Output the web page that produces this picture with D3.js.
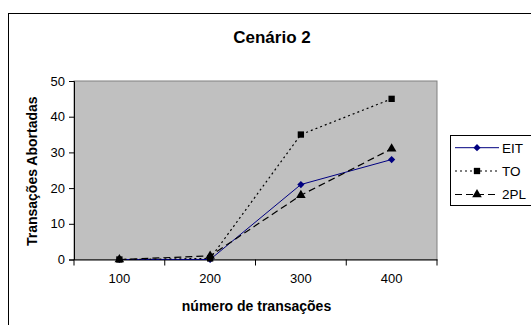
<!DOCTYPE html>
<html><head><meta charset="utf-8">
<script src="https://cdn.jsdelivr.net/npm/d3@7"></script>
<style>html,body{margin:0;padding:0;background:#fff;overflow:hidden}svg{display:block}</style>
</head><body>
<script>
const categories = ["100","200","300","400"];
const seriesNames = ["EIT","TO","2PL"];
const eitValues = [0, 0, 21, 28];
const toValues = [0, 0.3, 35, 45];
const tplValues = [0, 1, 18, 31];
const yTicks = [0,10,20,30,40,50];

(function(){
const W = 531, H = 325;
const svg = d3.select("body").append("svg").attr("width", W).attr("height", H);
const font = "Arial, 'Liberation Sans', sans-serif";

// outer chart border
svg.append("rect").attr("x", 8.5).attr("y", 13.5).attr("width", 600).attr("height", 400)
  .attr("fill", "#fff").attr("stroke", "#000").attr("stroke-width", 1);

const pL = 74, pR = 437, pT = 81, pB = 259.5;
const x = d3.scaleBand().domain(categories).range([pL, pR]).padding(0);
const y = d3.scaleLinear().domain([0, 50]).range([pB, pT]);

// plot area
svg.append("rect").attr("x", pL).attr("y", pT).attr("width", pR-pL).attr("height", pB-pT)
  .attr("fill", "#c0c0c0").attr("stroke", "#808080").attr("stroke-width", 1);

// y axis
const yAxis = svg.append("g").attr("transform", `translate(${pL},0)`)
  .call(d3.axisLeft(y).tickValues(yTicks).tickSize(5).tickPadding(4));
// x axis
const xAxis = svg.append("g").attr("transform", `translate(0,${pB})`)
  .call(d3.axisBottom(x).tickSize(0).tickPadding(14));
[yAxis, xAxis].forEach(g => {
  g.select(".domain").attr("stroke", "#000");
  g.selectAll("text").attr("font-family", font).attr("font-size", "13px").attr("fill", "#000");
  g.selectAll("line").attr("stroke", "#000");
});
// x ticks between categories
const bounds = categories.map(c => x(c)).concat([x(categories[categories.length-1]) + x.bandwidth()]);
svg.append("g").selectAll("line").data(bounds).join("line")
  .attr("x1", d => d).attr("x2", d => d).attr("y1", pB).attr("y2", pB + 6)
  .attr("stroke", "#000");

const cx = c => x(c) + x.bandwidth()/2;
const series = [
  {name: seriesNames[0], values: eitValues, color: "#000080", dash: null, width: 1, marker: d3.symbolSquare, size: 26, rot: 45},
  {name: seriesNames[1], values: toValues, color: "#000", dash: "2,3", width: 1.2, marker: d3.symbolSquare, size: 40, rot: 0},
  {name: seriesNames[2], values: tplValues, color: "#000", dash: "7,4", width: 1.2, marker: d3.symbolTriangle, size: 40, rot: 0},
];
const line = d3.line().x((d,i) => cx(categories[i])).y(d => y(d));
series.forEach(s => {
  svg.append("path").attr("d", line(s.values)).attr("fill", "none")
    .attr("stroke", s.color).attr("stroke-width", s.width).attr("stroke-dasharray", s.dash);
});
series.forEach(s => {
  svg.append("g").selectAll("path").data(s.values).join("path")
    .attr("d", d3.symbol().type(s.marker).size(s.size))
    .attr("transform", (d,i) => `translate(${cx(categories[i])},${y(d)}) rotate(${s.rot})`)
    .attr("fill", s.color);
});

// title
svg.append("text").attr("x", 272).attr("y", 43).attr("text-anchor", "middle")
  .attr("font-family", font).attr("font-weight", "bold").attr("font-size", "17px").text("Cenário 2");
// y title
svg.append("text").attr("transform", `translate(37,${(pT+pB)/2 + 1}) rotate(-90)`).attr("text-anchor", "middle")
  .attr("font-family", font).attr("font-weight", "bold").attr("font-size", "14px").text("Transações Abortadas");
// x title
svg.append("text").attr("x", (pL+pR)/2 + 1).attr("y", 311).attr("text-anchor", "middle")
  .attr("font-family", font).attr("font-weight", "bold").attr("font-size", "14px").text("número de transações");

// legend
const lg = svg.append("g");
lg.append("rect").attr("x", 450.5).attr("y", 135.5).attr("width", 120).attr("height", 70)
  .attr("fill", "#fff").attr("stroke", "#000");
const ly = [147.7, 171, 194.5];
series.forEach((s, i) => {
  lg.append("line").attr("x1", 455).attr("x2", 499).attr("y1", ly[i]).attr("y2", ly[i])
    .attr("stroke", s.color).attr("stroke-width", s.width).attr("stroke-dasharray", s.dash);
  lg.append("path").attr("d", d3.symbol().type(s.marker).size(s.size)())
    .attr("transform", `translate(477,${ly[i]}) rotate(${s.rot})`).attr("fill", s.color);
  lg.append("text").attr("x", 502).attr("y", ly[i]).attr("dy", "0.36em")
    .attr("font-family", font).attr("font-size", "13.5px").text(s.name);
});
})();
</script>
</body></html>
